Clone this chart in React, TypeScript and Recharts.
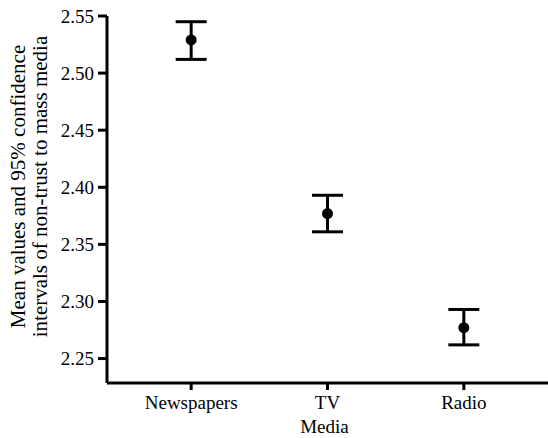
import React from 'react';
import {
  ScatterChart,
  Scatter,
  XAxis,
  YAxis,
  ErrorBar,
  Label,
} from 'recharts';

// Mean non-trust scores per medium with 95% CI bounds
const media = ['Newspapers', 'TV', 'Radio'];
const means = [2.529, 2.377, 2.277];
const lower = [2.512, 2.361, 2.262];
const upper = [2.545, 2.393, 2.293];
const yTicks = [2.25, 2.3, 2.35, 2.4, 2.45, 2.5, 2.55];

const data = media.map((name, i) => ({
  name,
  mean: means[i],
  ci: [means[i] - lower[i], upper[i] - means[i]],
}));

const FONT = '"Liberation Serif", "DejaVu Serif", serif';

const YLabel = (props: any) => {
  const { viewBox } = props;
  const cy = viewBox.y + viewBox.height / 2 - 13;
  return (
    <text
      transform={`rotate(-90, 0, ${cy})`}
      x={0}
      y={cy}
      textAnchor="middle"
      fontFamily={FONT}
      fontSize={21}
      fill="#000"
    >
      <tspan x={0} y={cy + 25}>Mean values and 95% confidence</tspan>
      <tspan x={0} y={cy + 47}>intervals of non-trust to mass media</tspan>
    </text>
  );
};

const XLabel = (props: any) => {
  const { viewBox } = props;
  return (
    <text
      x={viewBox.x + viewBox.width / 2 - 3}
      y={433}
      textAnchor="middle"
      fontFamily={FONT}
      fontSize={19}
      fill="#000"
    >
      Media
    </text>
  );
};

const Dot = (props: any) => <circle cx={props.cx} cy={props.cy} r={5.5} fill="#000" />;

export default function App() {
  return (
    <div style={{ position: 'absolute', left: 0, top: 0, background: '#fff' }}>
      <ScatterChart
        width={548}
        height={438}
        margin={{ top: 16, right: 0, bottom: 25, left: 0 }}
      >
        <XAxis
          dataKey="name"
          type="category"
          height={30}
          allowDuplicatedCategory={false}
          padding={{ left: 16, right: 16 }}
          axisLine={{ stroke: '#000', strokeWidth: 3 }}
          tickLine={{ stroke: '#000', strokeWidth: 3 }}
          tickSize={7}
          tickMargin={6}
          tick={{ fill: '#000', fontFamily: FONT, fontSize: 19 }}
        >
          <Label content={XLabel} />
        </XAxis>
        <YAxis
          type="number"
          dataKey="mean"
          width={107}
          domain={[2.2286, 2.55]}
          ticks={yTicks}
          tickFormatter={(v: number) => v.toFixed(2)}
          axisLine={{ stroke: '#000', strokeWidth: 3 }}
          tickLine={{ stroke: '#000', strokeWidth: 3 }}
          tickSize={9}
          tickMargin={4}
          tick={{ fill: '#000', fontFamily: FONT, fontSize: 19 }}
        >
          <Label content={YLabel} />
        </YAxis>
        <Scatter data={data} dataKey="mean" shape={Dot} isAnimationActive={false}>
          <ErrorBar
            dataKey="ci"
            direction="y"
            width={15.5}
            stroke="#000"
            strokeWidth={3}
          />
        </Scatter>
      </ScatterChart>
    </div>
  );
}
